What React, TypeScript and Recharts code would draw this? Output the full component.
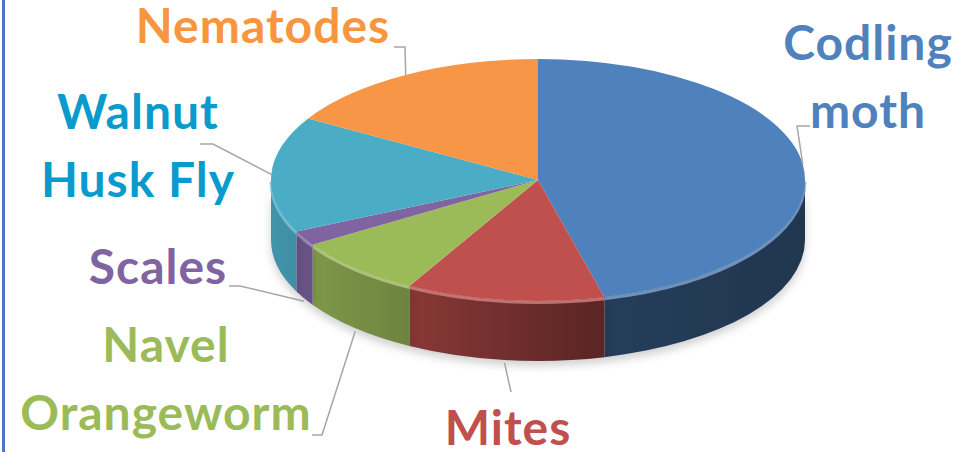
import { PieChart, Pie } from "recharts"

const pests = ["Codling moth", "Mites", "Navel Orangeworm", "Scales", "Walnut Husk Fly", "Nematodes"]
const shares = [46, 12, 8, 2, 15.5, 16.5]
const sliceColors = ["#4f81bd", "#c0504d", "#9bbb59", "#8064a2", "#4bacc6", "#f79646"]
const labelColors = ["#4f81bd", "#c0504d", "#9bbb59", "#8064a2", "#0a9bcd", "#f7963e"]

const pieData = pests.map((pest, i) => ({ pest, share: shares[i], fill: sliceColors[i] }))

// how the flat pie is tipped into a 3d disc
const TILT = 0.453
const DEPTH = 60
const RAD = Math.PI / 180

// where each label sits, with the elbow of its leader line
const labelLayout: Record<string, { lines: string[]; x: number; y: number; knee: number[]; tail?: number[] }> = {
    "Codling moth": { lines: ["Codling", "moth"], x: 868, y: 60, knee: [797, 126], tail: [810, 126] },
    Mites: { lines: ["Mites"], x: 508, y: 445, knee: [511, 392] },
    "Navel Orangeworm": { lines: ["Navel", "Orangeworm"], x: 166, y: 362, knee: [322, 435], tail: [312, 435] },
    Scales: { lines: ["Scales"], x: 158, y: 284, knee: [240, 286], tail: [229, 286] },
    "Walnut Husk Fly": { lines: ["Walnut", "Husk Fly"], x: 138, y: 129, knee: [213, 144], tail: [200, 144] },
    Nematodes: { lines: ["Nematodes"], x: 263, y: 43, knee: [405, 47], tail: [394, 47] },
}

function shade(hex: string, f: number) {
    const n = parseInt(hex.slice(1), 16)
    const c = [(n >> 16) & 255, (n >> 8) & 255, n & 255].map((v) => Math.round(v * f))
    return `rgb(${c[0]},${c[1]},${c[2]})`
}

function lighten(hex: string, f: number) {
    const n = parseInt(hex.slice(1), 16)
    const c = [(n >> 16) & 255, (n >> 8) & 255, n & 255].map((v) => Math.round(v + (255 - v) * f))
    return `rgb(${c[0]},${c[1]},${c[2]})`
}

function Slice3D(props: any) {
    const { cx, cy, outerRadius, startAngle, endAngle, fill, index } = props
    const rx = outerRadius
    const ry = outerRadius * TILT
    const pt = (a: number, dy = 0) => [cx + rx * Math.cos(a * RAD), cy - ry * Math.sin(a * RAD) + dy]
    const hi = Math.max(startAngle, endAngle)
    const lo = Math.min(startAngle, endAngle)
    const large = hi - lo > 180 ? 1 : 0
    const [sx, sy] = pt(hi)
    const [ex, ey] = pt(lo)
    const top = `M${cx},${cy} L${sx},${sy} A${rx},${ry} 0 ${large} 1 ${ex},${ey} Z`

    // the front wall is where the angle is in the lower half
    const walls: number[][] = []
    for (let k = -2; k <= 1; k++) {
        const a1 = Math.max(lo, -180 + 360 * k)
        const a2 = Math.min(hi, 360 * k)
        if (a2 > a1) walls.push([a1, a2])
    }
    const gid = `side-${index}`

    return (
        <g>
            <defs>
                <linearGradient id={gid} gradientUnits="userSpaceOnUse" x1={cx - rx} x2={cx + rx} y1={0} y2={0}>
                    <stop offset="0" stopColor={shade(fill, 0.86)} />
                    <stop offset="0.3" stopColor={shade(fill, 0.68)} />
                    <stop offset="0.6" stopColor={shade(fill, 0.48)} />
                    <stop offset="1" stopColor={shade(fill, 0.42)} />
                </linearGradient>
            </defs>
            {walls.map(([a1, a2]) => {
                const [p2x, p2y] = pt(a2)
                const [p1x, p1y] = pt(a1)
                const [b1x, b1y] = pt(a1, DEPTH)
                const [b2x, b2y] = pt(a2, DEPTH)
                return (
                    <g key={a1}>
                        <path
                            d={`M${p2x},${p2y} A${rx},${ry} 0 0 1 ${p1x},${p1y} L${b1x},${b1y} A${rx},${ry} 0 0 0 ${b2x},${b2y} Z`}
                            fill={`url(#${gid})`}
                            style={{ filter: "drop-shadow(0px 5px 4px rgba(0,0,0,0.18))" }}
                        />
                        <path
                            d={`M${p2x},${p2y + 1.5} A${rx},${ry} 0 0 1 ${p1x},${p1y + 1.5}`}
                            fill="none"
                            stroke={lighten(fill, 0.3)}
                            strokeWidth={3}
                            strokeOpacity={0.8}
                        />
                    </g>
                )
            })}
            <path d={top} fill={fill} />
        </g>
    )
}

function PestLabel(props: any) {
    const { cx, cy, outerRadius, midAngle, index } = props
    const name = pests[index]
    const lay = labelLayout[name]
    const rx = outerRadius
    const ry = outerRadius * TILT
    const s = Math.sin(midAngle * RAD)
    const ax = cx + rx * Math.cos(midAngle * RAD)
    const ay = cy - ry * s + (s < 0 ? DEPTH + 3 : 0)
    const pts = [[ax, ay], lay.knee, ...(lay.tail ? [lay.tail] : [])]
    return (
        <g>
            <polyline points={pts.map((p) => p.join(",")).join(" ")} fill="none" stroke="#a6a6a6" strokeWidth={1.5} />
            <text
                x={lay.x}
                y={lay.y}
                textAnchor="middle"
                fontFamily="Lato, 'Open Sans', sans-serif"
                fontWeight={700}
                fontSize={48}
                letterSpacing={1}
                fill={labelColors[index]}
            >
                {lay.lines.map((line, i) => (
                    <tspan key={line} x={lay.x} dy={i === 0 ? 0 : 68}>
                        {line}
                    </tspan>
                ))}
            </text>
        </g>
    )
}

export default function App() {
    return (
        <div style={{ position: "absolute", left: 0, top: 0, width: 969, height: 452, background: "#fff", overflow: "hidden" }}>
            <div style={{ position: "absolute", left: 2, top: 0, width: 3, height: 452, background: "#4a76c8" }} />
            <PieChart width={969} height={452} margin={{ top: 0, right: 0, bottom: 0, left: 0 }}>
                <Pie
                    data={pieData}
                    dataKey="share"
                    nameKey="pest"
                    cx={538}
                    cy={180}
                    outerRadius={267}
                    startAngle={90}
                    endAngle={-270}
                    stroke="none"
                    shape={Slice3D}
                    label={PestLabel}
                    labelLine={false}
                    isAnimationActive={false}
                />
            </PieChart>
        </div>
    )
}
